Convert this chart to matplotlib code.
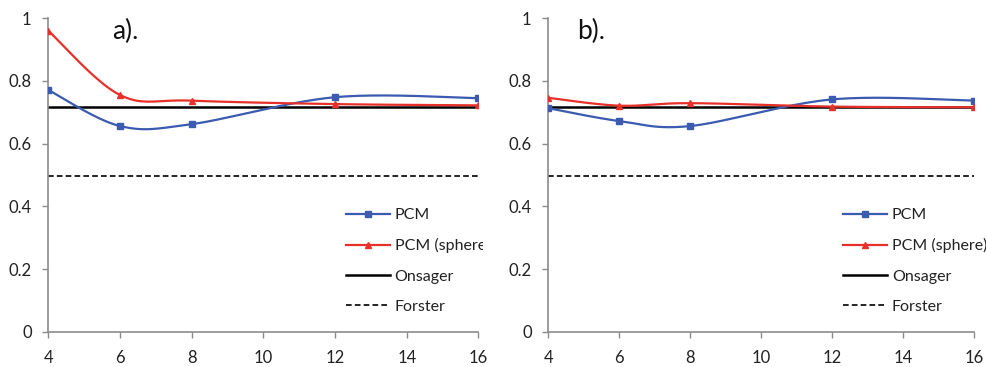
import numpy as np
import matplotlib
matplotlib.use("Agg")
import matplotlib.pyplot as plt

plt.rcParams['font.family'] = ['Lato', 'DejaVu Sans']

x = [4, 6, 8, 12, 16]
pcm_a = [0.771, 0.656, 0.662, 0.748, 0.745]
sphere_a = [0.960, 0.755, 0.737, 0.726, 0.722]
pcm_b = [0.713, 0.672, 0.656, 0.741, 0.737]
sphere_b = [0.746, 0.721, 0.729, 0.718, 0.716]
onsager = [0.717, 0.717]
forster = [0.497, 0.497]
x_ref = [4, 16]
panel_labels = ["a).", "b)."]
legend_labels = ["PCM", "PCM (sphere)", "Onsager", "Forster"]
xticks = [4, 6, 8, 10, 12, 14, 16]
yticks = [0, 0.2, 0.4, 0.6, 0.8, 1]
ytick_labels = ["0", "0.2", "0.4", "0.6", "0.8", "1"]

BLUE = "#3A5BB0"
RED = "#E8302A"
GRAY = "#8C8C8C"
DASH = (0, (3.4, 1.9))


def smooth(xs, ys, n=40):
    P = np.column_stack([xs, ys]).astype(float)
    P = np.vstack([P[0], P, P[-1]])
    out = []
    for i in range(1, len(P) - 2):
        p0, p1, p2, p3 = P[i - 1], P[i], P[i + 1], P[i + 2]
        c1 = p1 + (p2 - p0) / 6.0
        c2 = p2 - (p3 - p1) / 6.0
        t = np.linspace(0, 1, n)[:, None]
        seg = ((1 - t) ** 3) * p1 + 3 * ((1 - t) ** 2) * t * c1 + 3 * (1 - t) * t ** 2 * c2 + t ** 3 * p2
        out.append(seg if i == 1 else seg[1:])
    S = np.vstack(out)
    return S[:, 0], S[:, 1]


fig = plt.figure(figsize=(9.87, 3.67), dpi=100)
rects = [[48.3 / 987, 35.3 / 367, 430.2 / 987, 313.5 / 367],
         [548.3 / 987, 35.3 / 367, 426.0 / 987, 313.5 / 367]]
data = [(pcm_a, sphere_a), (pcm_b, sphere_b)]
label_pos = [(5.78, 0.958), (4.81, 0.958)]

for k, r in enumerate(rects):
    ax = fig.add_axes(r)
    pcm, sph = data[k]
    sx, sy = smooth(x, pcm)
    ax.plot(sx, sy, color=BLUE, lw=1.6, zorder=3)
    ax.plot(x, pcm, ls='none', marker='s', ms=5, color=BLUE, zorder=4)
    sx, sy = smooth(x, sph)
    ax.plot(sx, sy, color=RED, lw=1.6, zorder=3)
    ax.plot(x, sph, ls='none', marker='^', ms=5, color=RED, zorder=4)
    ax.plot(x_ref, onsager, color='black', lw=1.8, zorder=2)
    ax.plot(x_ref, forster, color='black', lw=1.2, ls=DASH, zorder=2)

    h1, = ax.plot([], [], color=BLUE, lw=1.6, marker='s', ms=5)
    h2, = ax.plot([], [], color=RED, lw=1.6, marker='^', ms=5)
    h3, = ax.plot([], [], color='black', lw=1.8)
    h4, = ax.plot([], [], color='black', lw=1.2, ls=DASH)
    leg = ax.legend([h1, h2, h3, h4], legend_labels, loc='center left',
                    bbox_to_anchor=(0.692, 0.2255), frameon=False, fontsize=11.5,
                    handlelength=2.75, handletextpad=0.3, labelspacing=1.0,
                    borderpad=0, borderaxespad=0, markerscale=1.0)
    for t in leg.get_texts():
        t.set_color('#222222')
        if k == 0:
            t.set_clip_on(True)
            t.set_clip_box(fig.bbox)
    if k == 0:
        # the legend text in panel a is cut off just past the plot area
        from matplotlib.patches import Rectangle
        clip = Rectangle((0, 0), 483 / 987, 1, transform=fig.transFigure)
        for t in leg.get_texts():
            t.set_clip_path(clip)

    ax.text(*label_pos[k], panel_labels[k], fontsize=19, ha='left', va='center', color='#111111')

    ax.set_xlim(4, 16)
    ax.set_ylim(0, 1)
    ax.set_xticks(xticks)
    ax.set_yticks(yticks)
    ax.set_xticklabels([str(v) for v in xticks])
    ax.set_yticklabels(ytick_labels)
    for s in ['top', 'right']:
        ax.spines[s].set_visible(False)
    for s in ['left', 'bottom']:
        ax.spines[s].set_color(GRAY)
        ax.spines[s].set_linewidth(1.2)
    ax.tick_params(direction='out', length=4, width=1.0, color=GRAY, labelsize=12,
                   labelcolor='#222222')
    ax.tick_params(axis='x', pad=9)
    ax.tick_params(axis='y', pad=8)

fig.savefig("out.png", dpi=100)
